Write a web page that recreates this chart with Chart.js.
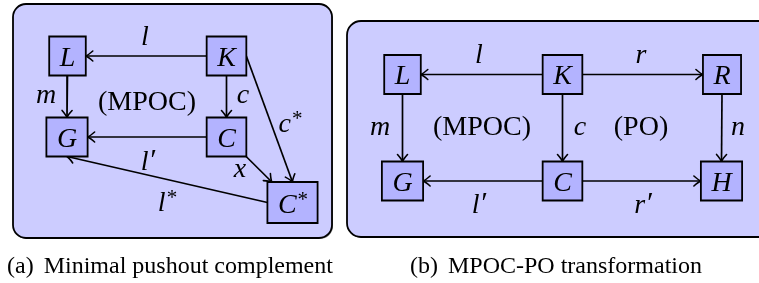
<!DOCTYPE html>
<html>
<head>
<meta charset="utf-8">
<script src="https://cdn.jsdelivr.net/npm/chart.js@4"></script>
<style>
  html, body { margin: 0; padding: 0; background: #fff; }
  canvas { display: block; }
</style>
</head>
<body>
<canvas id="diagram" width="759" height="283"></canvas>
<script>
// nodes of both panels: (a) = first five, (b) = last six
const nodeLabel = ['L', 'K', 'G', 'C', 'C', 'L', 'K', 'R', 'G', 'C', 'H'];
const nodeSup = ['', '', '', '', '*', '', '', '', '', '', ''];
const nodeX = [67.5, 226.5, 67, 226.5, 292.5, 402.5, 562.5, 722, 402.5, 562.5, 721.5];
const nodeY = [56, 56, 137, 137, 202.5, 74.5, 74.5, 74.5, 181, 181, 181];

// arrows: from node, anchor -> to node, anchor ('c' = clip the centre line)
const edgeFrom = [1, 0, 1, 3, 1, 3, 4, 6, 6, 5, 6, 7, 9, 9];
const edgeFromAnchor = ['w', 's', 's', 'w', 'e', 'c', 'w', 'w', 'e', 's', 's', 's', 'w', 'e'];
const edgeTo = [0, 2, 3, 2, 4, 4, 2, 5, 7, 8, 9, 10, 8, 10];
const edgeToAnchor = ['e', 'n', 'n', 'e', 'n', 'c', 's', 'e', 'w', 'n', 'n', 'n', 'e', 'w'];

// edge / region labels (x = centre, y = baseline)
const labelText = ['l', 'm', '(MPOC)', 'c', 'c', 'l', 'x', 'l',
                   'l', 'r', 'm', '(MPOC)', 'c', '(PO)', 'n', 'l', 'r'];
const labelSup = ['', '', '', '', '*', '′', '', '*',
                  '', '', '', '', '', '', '', '′', '′'];
const labelX = [145, 46, 147, 243, 290, 148, 240, 167,
                479, 641, 380, 482, 580, 641, 738, 479, 643];
const labelY = [45, 103, 110, 103, 132, 170, 177, 211,
                63, 63, 135, 135, 135, 135, 135, 213, 213];

const captionTag = ['(a)', '(b)'];
const captionText = ['Minimal pushout complement', 'MPOC-PO transformation'];

const SERIF = "'Liberation Serif', 'Times New Roman', serif";
const MAIN_PX = 28;
const PANELS = [
    { x0: 13, y0: 4, x1: 332, y1: 238, r: 13 },
    { x0: 347, y0: 21, x1: 780, y1: 237, r: 14 }
];

// superscript look: prime is a big slanted tick, star a raised asterisk
function supFont(s) {
    return s === '′' ? 'italic 30px ' + SERIF : '21px ' + SERIF;
}
function supRaise(s) {
    return s === '′' ? 1 : 7;
}

// box sizes follow the text width, like a tikz node with inner sep
const measureCtx = document.createElement('canvas').getContext('2d');
function textWidth(font, s) {
    measureCtx.font = font;
    return measureCtx.measureText(s).width;
}
const boxW = nodeLabel.map((s, i) =>
    textWidth('italic ' + MAIN_PX + 'px ' + SERIF, s) +
    (nodeSup[i] ? textWidth(supFont(nodeSup[i]), nodeSup[i]) : 0) + 21);
const boxH = nodeSup.map(s => s ? 41 : 39);

function anchorPoint(i, a, other) {
    const cx = nodeX[i], cy = nodeY[i], hw = boxW[i] / 2, hh = boxH[i] / 2;
    if (a === 'n') return { x: cx, y: cy - hh };
    if (a === 's') return { x: cx, y: cy + hh };
    if (a === 'e') return { x: cx + hw, y: cy };
    if (a === 'w') return { x: cx - hw, y: cy };
    const dx = nodeX[other] - cx, dy = nodeY[other] - cy;
    const t = Math.min(hw / Math.abs(dx || 1e-9), hh / Math.abs(dy || 1e-9));
    return { x: cx + dx * t, y: cy + dy * t };
}

const edgeSets = edgeFrom.map((f, k) => ({
    label: 'edge',
    data: [anchorPoint(f, edgeFromAnchor[k], edgeTo[k]), anchorPoint(edgeTo[k], edgeToAnchor[k], f)],
    showLine: true,
    borderColor: '#000',
    borderWidth: 1.7,
    pointRadius: 0
}));

function drawLabel(ctx, px, py, main, sup, italic) {
    const mainFont = (italic ? 'italic ' : '') + MAIN_PX + 'px ' + SERIF;
    const w1 = textWidth(mainFont, main);
    const w2 = sup ? textWidth(supFont(sup), sup) : 0;
    const x = px - (w1 + w2) / 2;
    ctx.fillStyle = '#000';
    ctx.textAlign = 'left';
    ctx.textBaseline = 'alphabetic';
    ctx.font = mainFont;
    ctx.fillText(main, x, py);
    if (sup) {
        ctx.font = supFont(sup);
        ctx.fillText(sup, x + w1 + (sup === '′' ? 0 : 1), py - supRaise(sup));
    }
}

function drawArrowHead(ctx, x1, y1, x2, y2) {
    const len = Math.hypot(x2 - x1, y2 - y1);
    const ux = (x2 - x1) / len, uy = (y2 - y1) / len;
    const nx = -uy, ny = ux;
    ctx.beginPath();
    [1, -1].forEach(s => {
        ctx.moveTo(x2 - ux * 7 + nx * 5 * s, y2 - uy * 7 + ny * 5 * s);
        ctx.quadraticCurveTo(x2 - ux * 2.5 + nx * 1 * s, y2 - uy * 2.5 + ny * 1 * s, x2, y2);
    });
    ctx.strokeStyle = '#000';
    ctx.lineWidth = 1.6;
    ctx.lineCap = 'round';
    ctx.stroke();
}

const diagramPlugin = {
    id: 'diagram',
    beforeDatasetsDraw(chart) {
        const { ctx, scales: { x, y } } = chart;
        ctx.save();
        PANELS.forEach(p => {
            const x0 = x.getPixelForValue(p.x0), x1 = x.getPixelForValue(p.x1);
            const y0 = y.getPixelForValue(p.y0), y1 = y.getPixelForValue(p.y1);
            ctx.beginPath();
            ctx.roundRect(x0 + 1, y0 + 1, x1 - x0, y1 - y0, p.r);
            ctx.fillStyle = '#8a8a8a';
            ctx.fill();
            ctx.beginPath();
            ctx.roundRect(x0, y0, x1 - x0, y1 - y0, p.r);
            ctx.fillStyle = '#ccccff';
            ctx.fill();
            ctx.strokeStyle = '#000';
            ctx.lineWidth = 1.8;
            ctx.stroke();
        });
        ctx.restore();
    },
    afterDatasetsDraw(chart) {
        const { ctx } = chart;
        ctx.save();
        chart.data.datasets.forEach((ds, i) => {
            const pts = chart.getDatasetMeta(i).data;
            if (ds.label === 'edge') {
                drawArrowHead(ctx, pts[0].x, pts[0].y, pts[1].x, pts[1].y);
            } else if (ds.label === 'nodes') {
                pts.forEach((p, k) => {
                    ctx.beginPath();
                    ctx.rect(p.x - boxW[k] / 2, p.y - boxH[k] / 2, boxW[k], boxH[k]);
                    ctx.fillStyle = '#b3b3ff';
                    ctx.fill();
                    ctx.strokeStyle = '#000';
                    ctx.lineWidth = 1.8;
                    ctx.stroke();
                    drawLabel(ctx, p.x, p.y + 9.5 + (nodeSup[k] ? 1 : 0), nodeLabel[k], nodeSup[k], true);
                });
            } else if (ds.label === 'labels') {
                pts.forEach((p, k) => {
                    drawLabel(ctx, p.x, p.y, labelText[k], labelSup[k], labelText[k][0] !== '(');
                });
            }
        });
        ctx.restore();
    },
    afterDraw(chart) {
        const { ctx, scales: { x, y } } = chart;
        ctx.save();
        ctx.fillStyle = '#000';
        ctx.textBaseline = 'alphabetic';
        ctx.textAlign = 'left';
        ctx.font = '24px ' + SERIF;
        const starts = [7, 410];
        captionTag.forEach((tag, k) => {
            const px = x.getPixelForValue(starts[k]);
            const py = y.getPixelForValue(273);
            ctx.fillText(tag, px, py);
            ctx.fillText(captionText[k], px + ctx.measureText(tag).width + 10, py);
        });
        ctx.restore();
    }
};

new Chart(document.getElementById('diagram'), {
    type: 'scatter',
    data: {
        datasets: [
            ...edgeSets,
            { label: 'nodes', data: nodeX.map((v, i) => ({ x: v, y: nodeY[i] })), pointRadius: 0 },
            { label: 'labels', data: labelX.map((v, i) => ({ x: v, y: labelY[i] })), pointRadius: 0 }
        ]
    },
    options: {
        responsive: false,
        devicePixelRatio: 1,
        animation: false,
        events: [],
        layout: { padding: 0 },
        plugins: {
            legend: { display: false },
            tooltip: { enabled: false }
        },
        scales: {
            x: { type: 'linear', min: 0, max: 759, display: false },
            y: { type: 'linear', min: 0, max: 283, reverse: true, display: false }
        }
    },
    plugins: [diagramPlugin]
});
</script>
</body>
</html>
